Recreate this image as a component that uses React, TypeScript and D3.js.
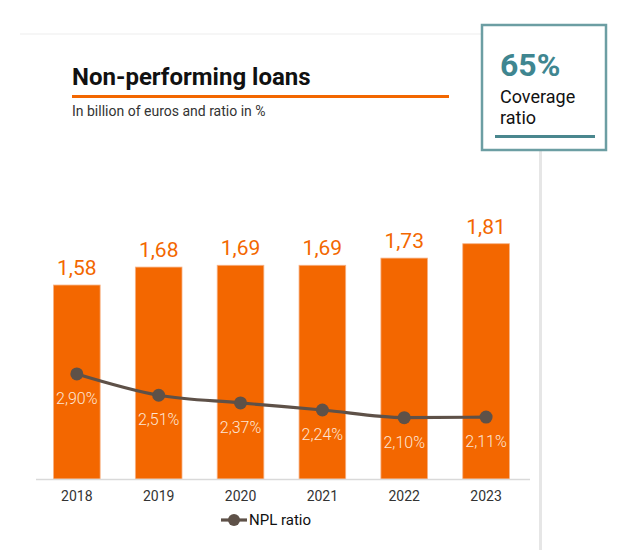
import React from "react";
import * as d3 from "d3";

const years = ["2018", "2019", "2020", "2021", "2022", "2023"];
const nplAmounts = [1.58, 1.68, 1.69, 1.69, 1.73, 1.81];
const nplRatios = [2.9, 2.51, 2.37, 2.24, 2.1, 2.11];
const amountLabels = ["1,58", "1,68", "1,69", "1,69", "1,73", "1,81"];
const ratioLabels = ["2,90%", "2,51%", "2,37%", "2,24%", "2,10%", "2,11%"];
const titleText = "Non-performing loans";
const subtitleText = "In billion of euros and ratio in %";
const legendLabel = "NPL ratio";
const coverageValue = "65%";
const coverageLines = ["Coverage", "ratio"];

const FONT = "Roboto, 'Open Sans', sans-serif";
const ORANGE = "#f36700";
const LINE = "#5e5148";
const TEAL = "#3f8690";

export default function App() {
  const x = d3
    .scaleBand<string>()
    .domain(years)
    .range([35.9, 35.9 + 6 * 81.85])
    .paddingInner(0.43)
    .paddingOuter(0.215);
  const yBar = d3.scaleLinear().domain([0.5, 2.0]).range([479, 209.6]);
  const yLine = d3.scaleLinear().domain([0, 4]).range([532.3, 313.9]);
  const cx = (yr: string) => (x(yr) as number) + x.bandwidth() / 2;

  const linePath = d3
    .line<number>()
    .x((_, i) => cx(years[i]))
    .y((d) => yLine(d))
    .curve(d3.curveMonotoneX)(nplRatios) as string;

  return (
    <svg
      width={631}
      height={550}
      style={{ position: "absolute", left: 0, top: 0, background: "#fff" }}
      fontFamily={FONT}
    >
      {/* faint top rule and right shadow */}
      <line x1={20} x2={482} y1={34} y2={34} stroke="#f3f3f3" strokeWidth={1.5} />
      <rect x={539} y={150} width={3} height={400} fill="#e6e6e6" />

      {/* title */}
      <text x={72} y={85} fontSize={24} fontWeight={700} fill="#111">
        {titleText}
      </text>
      <rect x={72} y={95} width={377} height={3} fill={ORANGE} />
      <text x={72} y={116} fontSize={14} fill="#333">
        {subtitleText}
      </text>

      {/* coverage box */}
      <rect x={482} y={25} width={124} height={125} fill="#fff" stroke="#6c9ea3" strokeWidth={2.5} />
      <text x={500} y={76} fontSize={32} fontWeight={700} fill={TEAL}>
        {coverageValue}
      </text>
      {coverageLines.map((t, i) => (
        <text key={t} x={500} y={103 + i * 21} fontSize={18} fill="#111">
          {t}
        </text>
      ))}
      <rect x={495} y={135} width={100} height={3} fill="#4a878e" />

      {/* bars */}
      {years.map((yr, i) => (
        <g key={yr}>
          <rect
            x={x(yr)}
            y={yBar(nplAmounts[i])}
            width={x.bandwidth()}
            height={yBar(0.5) - yBar(nplAmounts[i])}
            fill={ORANGE}
            stroke="#f7b285"
            strokeWidth={0.8}
          />
          <text
            x={cx(yr)}
            y={yBar(nplAmounts[i]) - 10}
            textAnchor="middle"
            fontSize={21}
            fill={ORANGE}
          >
            {amountLabels[i]}
          </text>
          <text
            x={cx(yr)}
            y={501}
            textAnchor="middle"
            fontSize={14}
            fill="#333"
          >
            {yr}
          </text>
        </g>
      ))}

      {/* axis baseline */}
      <line x1={36} x2={530} y1={479.5} y2={479.5} stroke="#d9d9d9" strokeWidth={1.5} />

      {/* line */}
      <path d={linePath} fill="none" stroke={LINE} strokeWidth={3.2} />
      {nplRatios.map((v, i) => (
        <g key={i}>
          <circle cx={cx(years[i])} cy={yLine(v)} r={6.5} fill={LINE} />
          <text
            x={cx(years[i])}
            y={yLine(v) + 30}
            textAnchor="middle"
            fontSize={16}
            fontWeight={300}
            fill="#fde6d6"
          >
            {ratioLabels[i]}
          </text>
        </g>
      ))}

      {/* legend */}
      <line x1={221} x2={247} y1={520} y2={520} stroke={LINE} strokeWidth={3.2} />
      <circle cx={234} cy={520} r={6} fill={LINE} />
      <text x={249} y={525} fontSize={15} fill="#111">
        {legendLabel}
      </text>
    </svg>
  );
}
